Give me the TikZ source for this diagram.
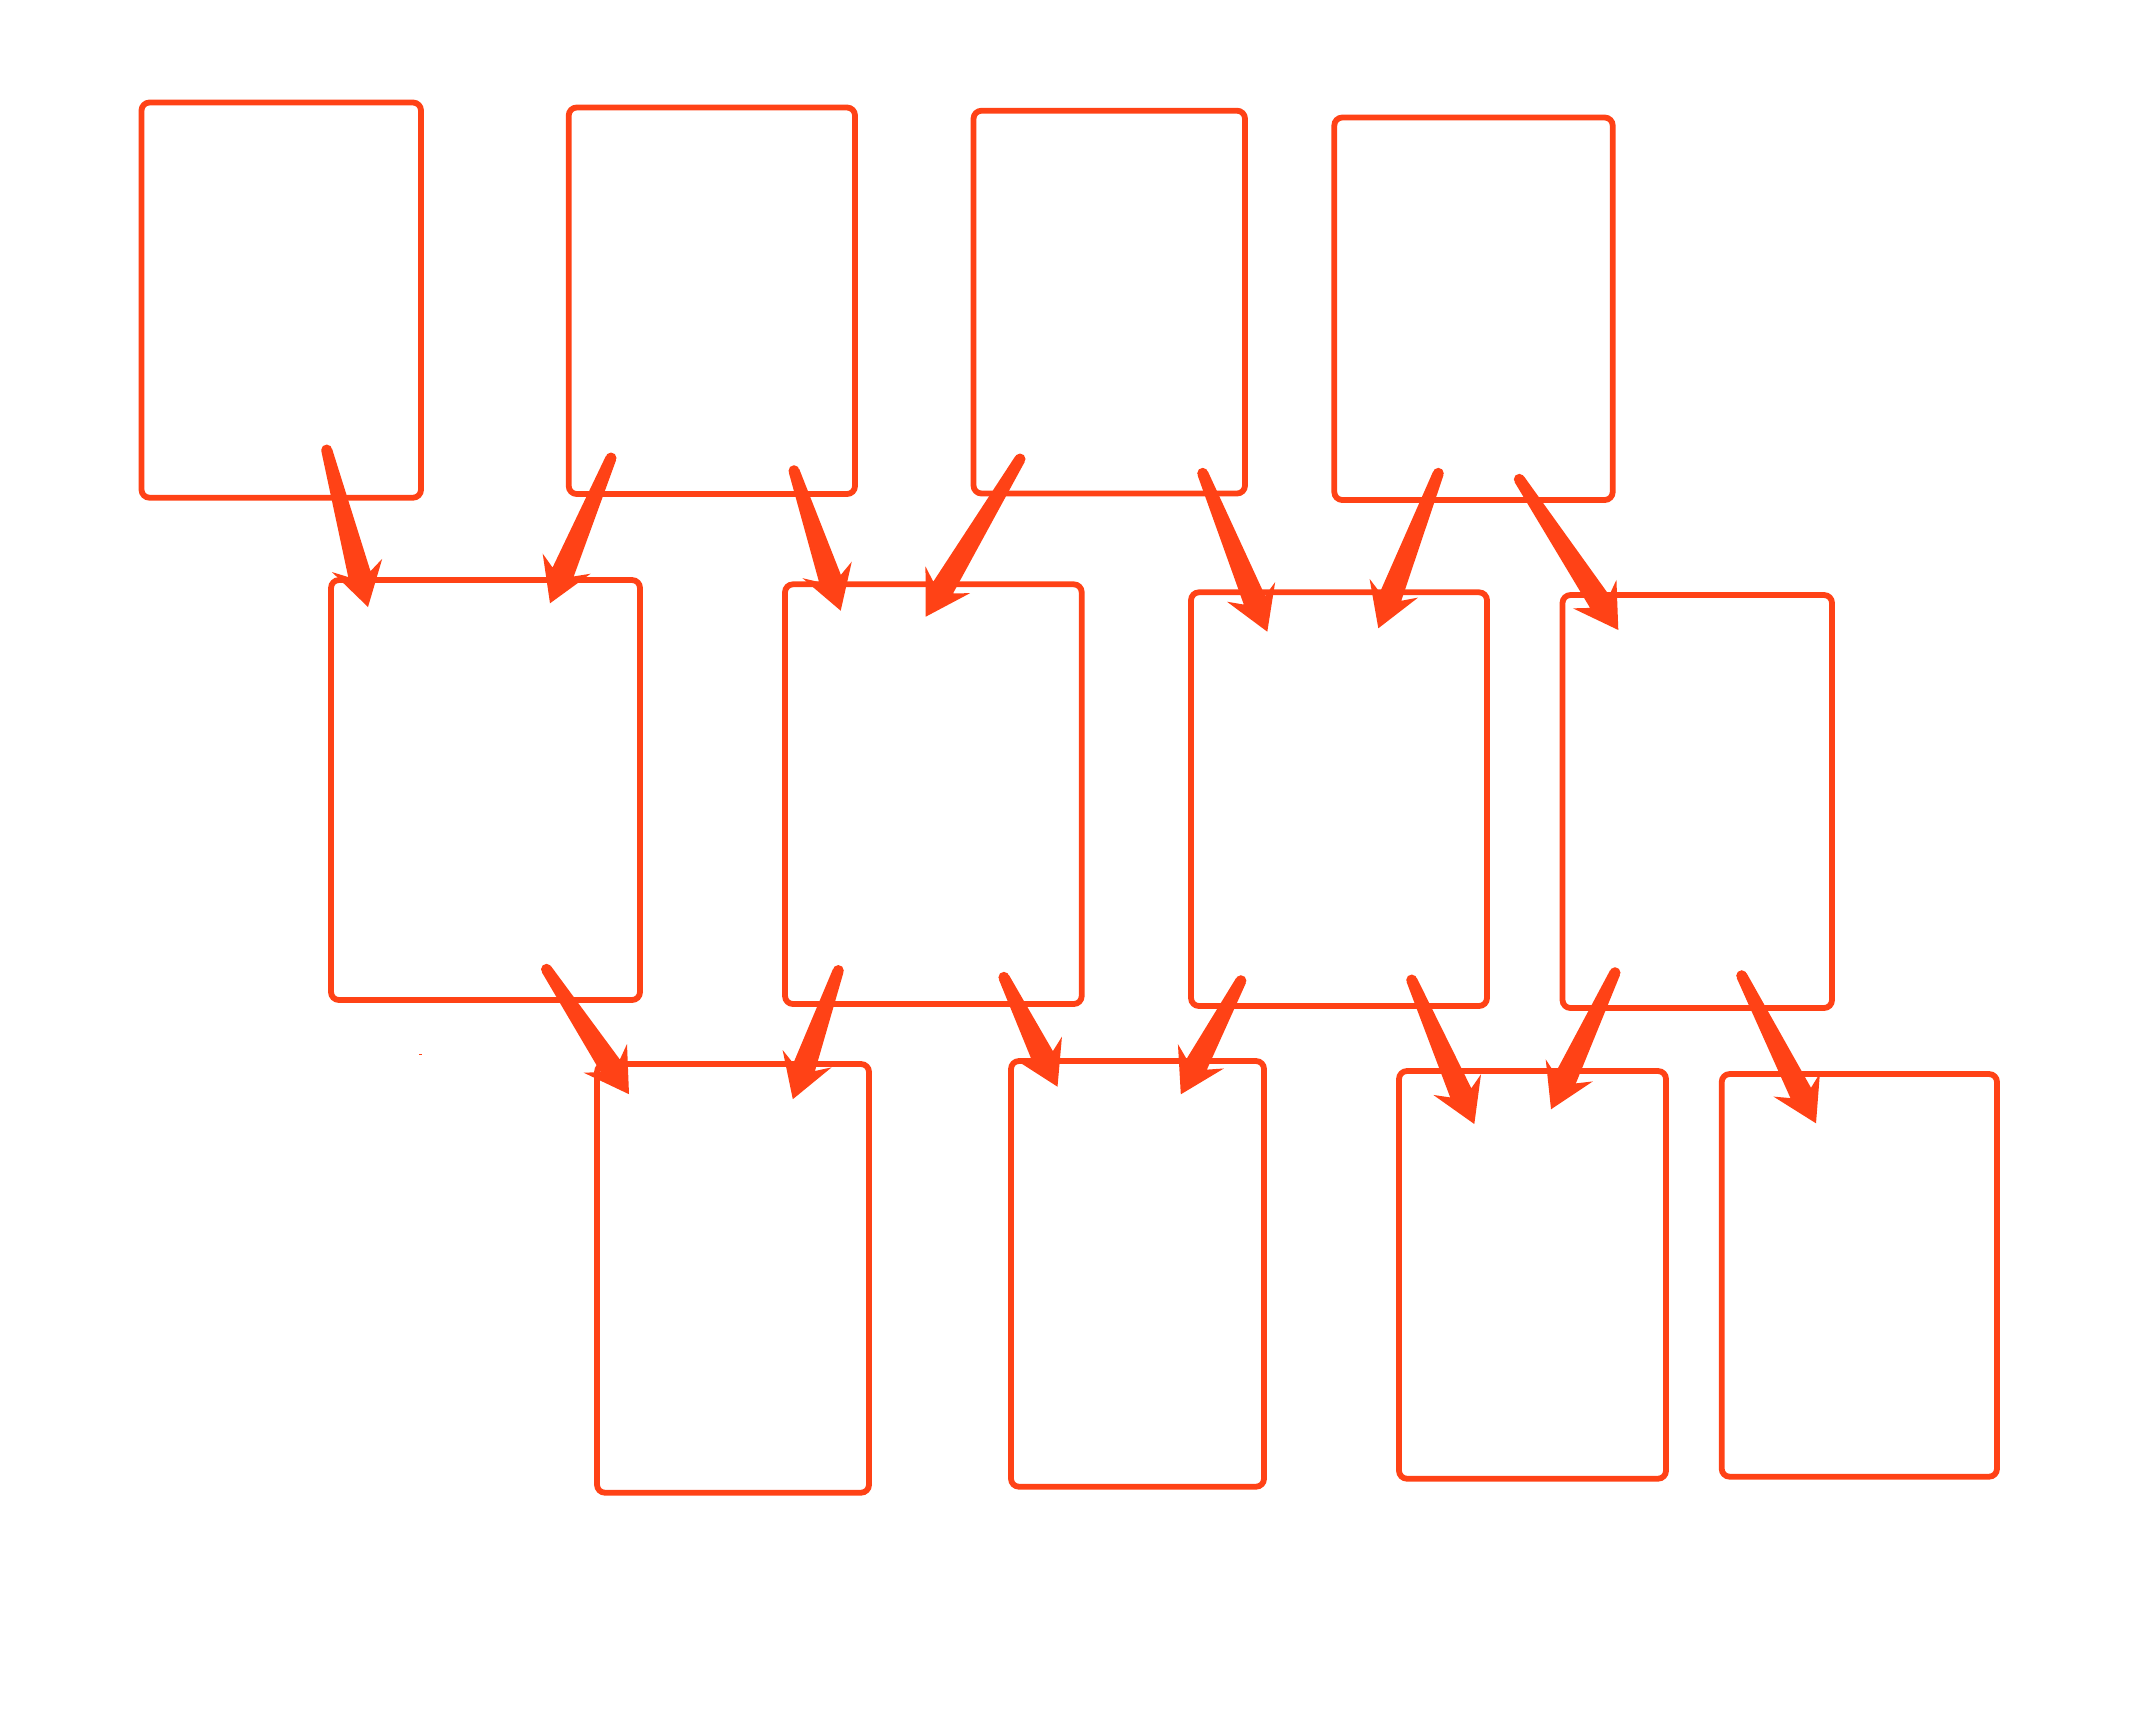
\documentclass[tikz,border=0pt]{standalone}
\usetikzlibrary{calc}
\definecolor{org}{HTML}{FF4216}
\tikzset{
  box/.style={draw=org, line width=5.8pt, rounded corners=8pt, rectangle, inner sep=0pt, outer sep=0pt},
  arrfill/.style={fill=org},
}
\newcommand{\bx}[5]{\node[box, minimum width={(#4-#2)*1pt}, minimum height={(#5-#3)*1pt}] (#1) at ({(#2+#4)/2},{(#3+#5)/2}) {};}
\newcommand{\tarr}[2]{%
  \fill[arrfill] ($(#1)!5.5pt!90:(#2)$) -- ($(#2)!34pt!(#1)!11.5pt!-90:(#1)$) -- ($(#2)!43pt!(#1)!26pt!-90:(#1)$) -- (#2) -- ($(#2)!43pt!(#1)!26pt!90:(#1)$) -- ($(#2)!34pt!(#1)!11.5pt!90:(#1)$) -- ($(#1)!5.5pt!-90:(#2)$) -- cycle;
  \fill[arrfill] (#1) circle[radius=5.5pt];}
\begin{document}
\begin{tikzpicture}[x=1pt,y=-1pt]
\useasboundingbox (0,0) rectangle (2132,1714);
% row 1
\bx{B1}{141.5}{102.5}{421}{497.7}
\bx{B2}{568.7}{107.5}{855}{494}
\bx{B3}{973.5}{110.7}{1245}{493.5}
\bx{B4}{1334.3}{117.5}{1612.7}{500}
% row 2
\bx{B5}{331}{580}{640}{1000}
\bx{B6}{785}{584.3}{1081.7}{1004}
\bx{B7}{1191}{592.3}{1487}{1006}
\bx{B8}{1562.5}{595}{1832}{1008}
% row 3
\bx{B9}{597}{1064}{869}{1492.7}
\bx{B10}{1011}{1061}{1264}{1486.7}
\bx{B11}{1399}{1071}{1666}{1478.7}
\bx{B12}{1721.7}{1074}{1997}{1476.7}
% arrow ends
\coordinate (a1t) at (326.7,450);   \coordinate (a1h) at (368,607);
\coordinate (a2t) at (611,458);     \coordinate (a2h) at (550,603.3);
\coordinate (a3t) at (794,470.7);   \coordinate (a3h) at (840.7,610.7);
\coordinate (a4t) at (1020,459);    \coordinate (a4h) at (925.7,616.7);
\coordinate (a5t) at (1202.7,473.3);\coordinate (a5h) at (1267.3,631.7);
\coordinate (a6t) at (1438.3,473.3);\coordinate (a6h) at (1378.3,628.3);
\coordinate (a7t) at (1519.3,479.3);\coordinate (a7h) at (1618.3,630);
\coordinate (b1t) at (546.5,969.3); \coordinate (b1h) at (629,1094.2);
\coordinate (b2t) at (838.3,970.5); \coordinate (b2h) at (792.8,1099.2);
\coordinate (b3t) at (1003.9,977.3);\coordinate (b3h) at (1057.5,1086.7);
\coordinate (b4t) at (1240.9,980.7);\coordinate (b4h) at (1180.8,1094.3);
\coordinate (b5t) at (1411.7,980);  \coordinate (b5h) at (1474.3,1124);
\coordinate (b6t) at (1615,972.7);  \coordinate (b6h) at (1551,1109.3);
\coordinate (b7t) at (1741.7,975.7);\coordinate (b7h) at (1816,1123.3);
\tarr{a1t}{a1h}
\tarr{a2t}{a2h}
\tarr{a3t}{a3h}
\tarr{a4t}{a4h}
\tarr{a5t}{a5h}
\tarr{a6t}{a6h}
\tarr{a7t}{a7h}
\tarr{b1t}{b1h}
\tarr{b2t}{b2h}
\tarr{b3t}{b3h}
\tarr{b4t}{b4h}
\tarr{b5t}{b5h}
\tarr{b6t}{b6h}
\tarr{b7t}{b7h}
% tiny stray mark
\fill[org] (418.8,1053.5) rectangle (421.8,1055);
\end{tikzpicture}
\end{document}
